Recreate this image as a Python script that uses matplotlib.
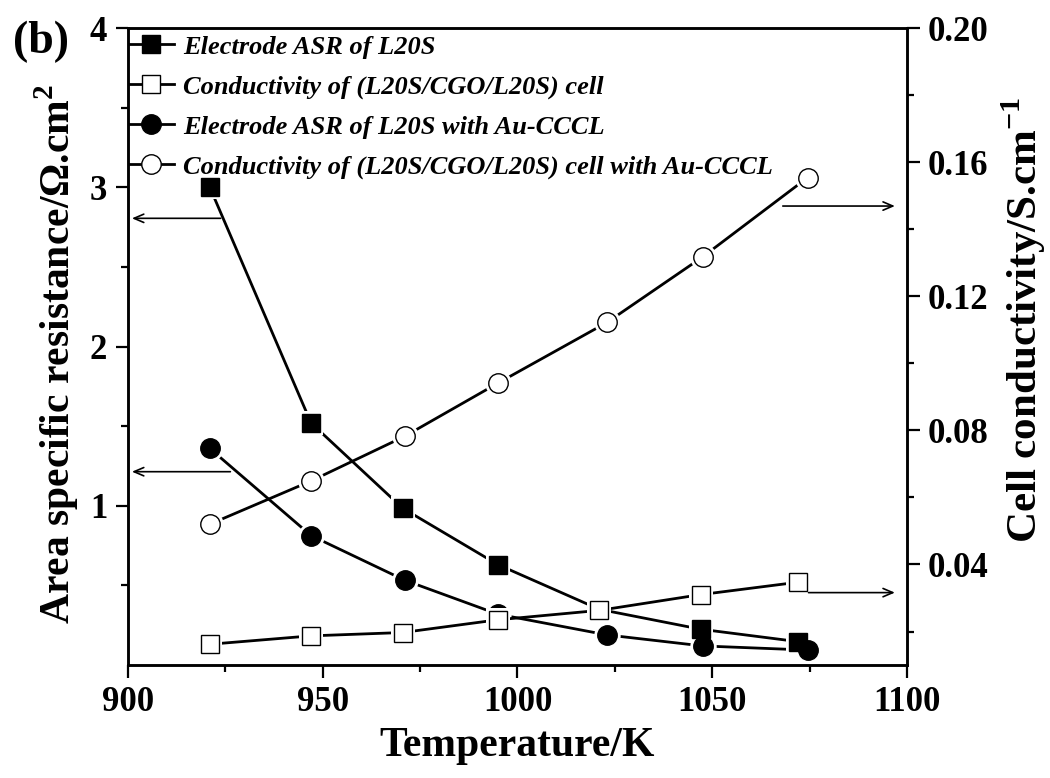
import matplotlib
matplotlib.use("Agg")
import matplotlib.pyplot as plt
from matplotlib.lines import Line2D
from matplotlib.ticker import MultipleLocator, FixedLocator

plt.rcParams['font.family'] = ['Liberation Serif', 'DejaVu Serif']
plt.rcParams['font.weight'] = 'bold'
plt.rcParams['mathtext.fontset'] = 'custom'
plt.rcParams['mathtext.rm'] = 'Liberation Serif:bold'
plt.rcParams['mathtext.bf'] = 'Liberation Serif:bold'

# ---- data ----
temp_sq = [921, 947, 970.5, 995, 1021, 1047, 1072]
temp_ci = [921, 947, 971, 995, 1023, 1047.5, 1074.5]
asr_l20s = [3.0, 1.52, 0.985, 0.63, 0.35, 0.225, 0.147]
cond_l20s = [0.0162, 0.0187, 0.0197, 0.0235, 0.0263, 0.031, 0.0347]
asr_au = [1.36, 0.813, 0.533, 0.319, 0.189, 0.12, 0.094]
cond_au = [0.052, 0.0649, 0.0782, 0.0941, 0.1122, 0.1317, 0.1554]

labels = ["Electrode ASR of L20S",
          "Conductivity of (L20S/CGO/L20S) cell",
          "Electrode ASR of L20S with Au-CCCL",
          "Conductivity of (L20S/CGO/L20S) cell with Au-CCCL"]

# arrow annotations: (y, x_start, x_end)
left_arrows = [(2.805, 924.5, 900.3), (1.214, 927.0, 900.3)]
right_arrows = [(0.1469, 1067.4, 1097.6), (0.0316, 1074.0, 1097.6)]

fig = plt.figure(figsize=(10.5, 7.78), dpi=100)
ax = fig.add_axes([0.1219, 0.1452, 0.7419, 0.8188])
ax2 = ax.twinx()

LW = 2.0
MS_SQ = 12.5
MS_CI = 14

def draw(a, x, y, marker, filled, ms):
    a.plot(x, y, '-', color='black', lw=LW, zorder=2)
    a.plot(x, y, ls='none', marker=marker, ms=ms + 5, mfc='white', mec='white',
           mew=0, zorder=3)
    a.plot(x, y, ls='none', marker=marker, ms=ms,
           mfc='black' if filled else 'white', mec='black', mew=1.0, zorder=4)

draw(ax, temp_sq, asr_l20s, 's', True, MS_SQ)
draw(ax, temp_ci, asr_au, 'o', True, MS_CI)
draw(ax2, temp_sq, cond_l20s, 's', False, MS_SQ)
draw(ax2, temp_ci, cond_au, 'o', False, MS_CI)

ax.set_xlim(900, 1100)
ax.set_ylim(0, 4)
ax2.set_ylim(0.01, 0.20)

ax.xaxis.set_major_locator(MultipleLocator(50))
ax.xaxis.set_minor_locator(MultipleLocator(25))
ax.yaxis.set_major_locator(FixedLocator([1, 2, 3, 4]))
ax.yaxis.set_minor_locator(FixedLocator([0.5, 1.5, 2.5, 3.5]))
ax2.yaxis.set_major_locator(FixedLocator([0.04, 0.08, 0.12, 0.16, 0.20]))
ax2.yaxis.set_minor_locator(FixedLocator([0.02, 0.06, 0.10, 0.14, 0.18]))
ax2.set_yticklabels(['0.04', '0.08', '0.12', '0.16', '0.20'])

for a in (ax, ax2):
    a.tick_params(which='major', direction='out', length=9, width=1.6, labelsize=25, pad=6)
    a.tick_params(which='minor', direction='out', length=5, width=1.6)
    for s in a.spines.values():
        s.set_linewidth(1.8)
ax.tick_params(axis='y', right=False)
ax.tick_params(axis='x', top=False)

ax.set_xlabel('Temperature/K', fontsize=30, fontweight='bold')
ax.set_ylabel(r'Area specific resistance/$\Omega$.cm$^2$', fontsize=30, fontweight='bold')
ax2.set_ylabel(r'Cell conductivity/S.cm$^{-1}$', fontsize=31, fontweight='bold')
ax.xaxis.set_label_coords(0.5, -0.097)
ax.yaxis.set_label_coords(-0.060, 0.488)
ax2.yaxis.set_label_coords(1.118, 0.542)

fig.text(0.012, 0.946, '(b)', fontsize=33, fontweight='bold', ha='left', va='center')

for (y, x0, x1) in left_arrows:
    ax.annotate('', xy=(x1, y), xytext=(x0, y),
                arrowprops=dict(arrowstyle='->,head_length=0.7,head_width=0.3', lw=1.2, color='black'))
for (y, x0, x1) in right_arrows:
    ax2.annotate('', xy=(x1, y), xytext=(x0, y),
                 arrowprops=dict(arrowstyle='->,head_length=0.7,head_width=0.3', lw=1.2, color='black'))

handles = [
    Line2D([], [], color='black', lw=LW, marker='s', ms=MS_SQ, mfc='black', mec='black'),
    Line2D([], [], color='black', lw=LW, marker='s', ms=MS_SQ, mfc='white', mec='black'),
    Line2D([], [], color='black', lw=LW, marker='o', ms=MS_CI, mfc='black', mec='black'),
    Line2D([], [], color='black', lw=LW, marker='o', ms=MS_CI, mfc='white', mec='black'),
]
leg = ax2.legend(handles, labels, loc='upper left', bbox_to_anchor=(-0.004, 0.995),
                 frameon=False, borderaxespad=0.15, handlelength=1.7, handletextpad=0.35,
                 labelspacing=0.62, borderpad=0.0,
                 prop={'family': 'Liberation Serif', 'weight': 'bold', 'style': 'italic', 'size': 19})

fig.savefig('out.png', dpi=100)
